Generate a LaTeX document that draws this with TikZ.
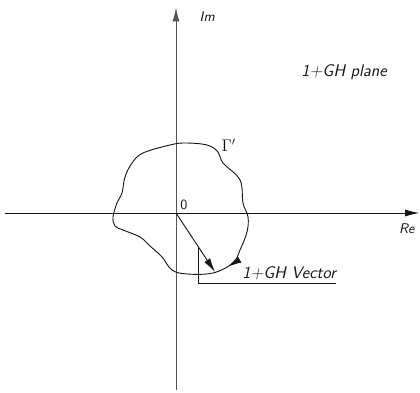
\documentclass[tikz,border=0pt]{standalone}
\usepackage{xcolor}
\usepackage{tikz}
\usetikzlibrary{arrows.meta,decorations.markings}
\definecolor{NQInk}{HTML}{151515}
\definecolor{NQAxis}{HTML}{555555}
\tikzset{
  handtext/.style={font=\sffamily\itshape, text=NQInk},
  axisline/.style={line width=0.6pt, -{Latex[length=10pt,width=5pt]}},
  contour/.style={NQInk, line width=0.65pt, postaction={decorate},
    decoration={markings, mark=at position 0.34 with {\arrow{Latex[length=10pt,width=5pt]}}}}
}
\begin{document}
\begin{tikzpicture}[x=1cm,y=1cm]
\path[use as bounding box] (0,0) rectangle (10.50,9.825);
\coordinate (O) at (4.40,4.50);
\coordinate (imbot) at (4.40,0.075);
\coordinate (imtop) at (4.40,9.64);
\coordinate (releft) at (0.125,4.50);
\coordinate (reright) at (10.48,4.50);
\draw[axisline,NQAxis] (imbot) -- (imtop);
\draw[axisline,NQInk] (releft) -- (reright);
\node[handtext] (imlab) at (5.18,9.40) {Im};
\node[handtext] (relab) at (10.17,4.10) {Re};
\node[handtext,font=\sffamily] (olab) at (4.60,4.70) {0};
\node[handtext,font=\sffamily\itshape\large] (planelab) at (8.60,8.03) {1+GH plane};
\node[handtext,font=\large] (gammalab) at (5.72,6.20) {$\Gamma'$};
\draw[contour] plot[smooth cycle, tension=0.6] coordinates {
  (4.625,6.25) (5.175,6.20) (5.45,6.025) (5.575,5.75) (6.00,5.325)
  (6.075,4.75) (6.20,4.40) (6.175,4.025) (6.00,3.575) (5.825,3.25)
  (5.325,3.00) (4.675,2.975) (4.30,3.075) (4.05,3.40) (3.75,3.675)
  (3.50,3.90) (3.075,4.075) (2.875,4.175) (2.825,4.40) (2.925,4.75)
  (3.05,5.00) (3.125,5.40) (3.30,5.75) (3.575,6.00) (4.25,6.20)};
\coordinate (vtip) at (5.375,3.025);
\draw[NQInk,line width=0.65pt,-{Latex[length=10pt,width=5pt]}] (O) -- coordinate[pos=0.58] (lead) (vtip);
\node[handtext,font=\sffamily\itshape\large,anchor=south west,inner xsep=0pt,inner ysep=2pt] (veclab) at (6.05,2.75) {1+GH Vector};
\draw[NQInk,line width=0.65pt] (lead) |- (veclab.south east);
\end{tikzpicture}
\end{document}
